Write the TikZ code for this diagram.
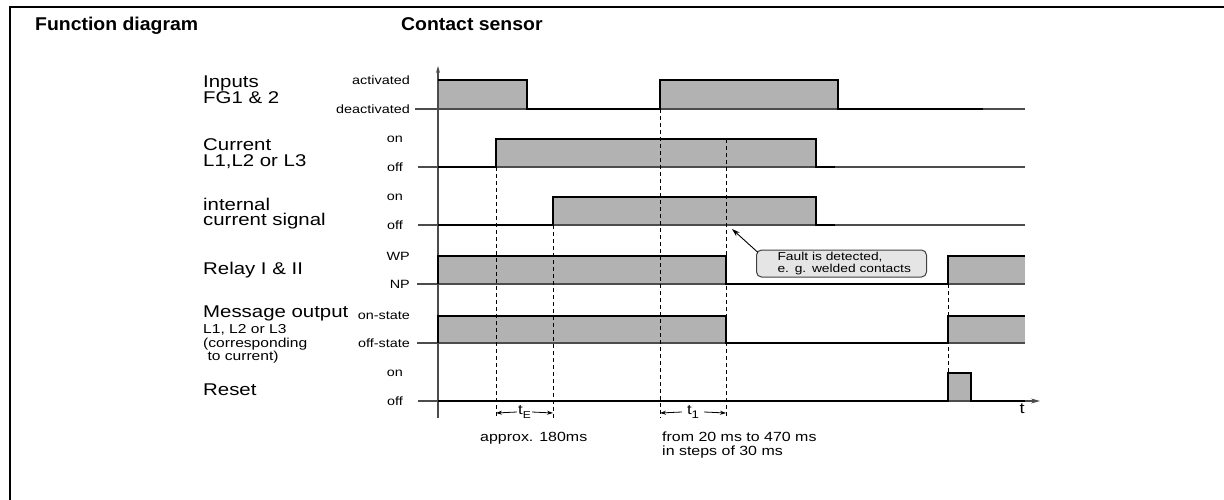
\documentclass[tikz,border=0pt]{standalone}
\usepackage{fontspec}
\setmainfont{Liberation Sans}[FakeStretch=1.2]
\newfontfamily\ttlfont{Liberation Sans}[FakeStretch=1.05]
\usetikzlibrary{arrows.meta}
\begin{document}
\begin{tikzpicture}[x=1pt,y=-1pt,
  sig/.style={line width=2pt, line join=miter, black},
  base/.style={line width=1.2pt, black!70},
  pulse/.style={fill=black!30},
  dsh/.style={line width=0.9pt, dash pattern=on 4pt off 3pt},
  ttl/.style={font=\ttlfont\fontsize{18.5}{21}\selectfont\bfseries, anchor=base west, inner sep=0},
  big/.style={font=\fontsize{17}{19}\selectfont, anchor=base west, inner sep=0},
  sml/.style={font=\fontsize{13}{14}\selectfont, anchor=base west, inner sep=0},
  lvl/.style={font=\fontsize{12}{13}\selectfont, anchor=east, inner sep=0},
  note/.style={font=\fontsize{13.3}{14}\selectfont, anchor=base west, inner sep=0},
  dim/.style={line width=0.8pt, -{Stealth[length=6pt,width=4pt]}},
  tip/.style={line width=0.9pt, -{Stealth[length=8pt,width=5pt]}}]
\useasboundingbox (0,0) rectangle (1224,500);
% frame
\draw[line width=2.5pt] (10,500) -- (10,7) -- (1224,7);
% titles
\node[ttl] (t1) at (35,31) {Function diagram};
\node[ttl] (t2) at (401,31) {Contact sensor};
% left labels
\node[big] (l1a) at (203,88) {Inputs};
\node[big] (l1b) at (203,104) {FG1 \& 2};
\node[big] (l2a) at (203,151) {Current};
\node[big] (l2b) at (203,167) {L1,L2 or L3};
\node[big] (l3a) at (203,210) {internal};
\node[big] (l3b) at (203,225) {current signal};
\node[big] (l4) at (203,274) {Relay I \& II};
\node[big] (l5a) at (203,317) {Message output};
\node[sml] (l5b) at (203,333) {L1, L2 or L3};
\node[sml] (l5c) at (203,347) {(corresponding};
\node[sml] (l5d) at (203,360) {\ to current)};
\node[big] (l6) at (203,395) {Reset};
% level labels
\node[lvl] (v1h) at (410,80) {activated};
\node[lvl] (v1l) at (410,109) {deactivated};
\node[lvl] (v2h) at (403,139) {on};
\node[lvl] (v2l) at (403,167) {off};
\node[lvl] (v3h) at (403,197) {on};
\node[lvl] (v3l) at (403,225) {off};
\node[lvl] (v4h) at (410,256) {WP};
\node[lvl] (v4l) at (410,284) {NP};
\node[lvl] (v5h) at (410,316) {on-state};
\node[lvl] (v5l) at (410,343) {off-state};
\node[lvl] (v6h) at (403,373) {on};
\node[lvl] (v6l) at (403,401) {off};
% pulses
\fill[pulse] (438,80) rectangle (527,109);
\fill[pulse] (660,80) rectangle (838,109);
\fill[pulse] (496,139) rectangle (816,167);
\fill[pulse] (553,197) rectangle (816,225);
\fill[pulse] (438,256) rectangle (726,284);
\fill[pulse] (948,256) rectangle (1025,284);
\fill[pulse] (438,316) rectangle (726,343);
\fill[pulse] (948,316) rectangle (1025,343);
\fill[pulse] (948,373) rectangle (971,401);
% base lines
\draw[base] (415,109) -- (1025,109);
\draw[base] (418,167) -- (1025,167);
\draw[base] (418,225) -- (1025,225);
\draw[base] (417,284) -- (1025,284);
\draw[base] (417,343) -- (1025,343);
\draw[base, -{Stealth[length=9pt,width=5pt]}] (418,401) -- (1040,401);
\draw[base, -{Stealth[length=7pt,width=4pt]}] (438,418) -- (438,66);
% dashed
\draw[dsh] (496,167) -- (496,418);
\draw[dsh] (553,225) -- (553,418);
\draw[dsh] (660,109) -- (660,418);
\draw[dsh] (726,139) -- (726,418);
\draw[dsh] (948,284) -- (948,373);
% signals
\draw[sig] (438,80) -- (527,80) -- (527,109) -- (660,109) -- (660,80) -- (838,80) -- (838,109) -- (983,109);
\draw[sig] (438,167) -- (496,167) -- (496,139) -- (816,139) -- (816,167) -- (835,167);
\draw[sig] (438,225) -- (553,225) -- (553,197) -- (816,197) -- (816,225) -- (835,225);
\draw[sig] (438,284) -- (438,256) -- (726,256) -- (726,284) -- (948,284) -- (948,256) -- (1025,256);
\draw[sig] (438,343) -- (438,316) -- (726,316) -- (726,343) -- (948,343) -- (948,316) -- (1025,316);
\draw[sig] (438,401) -- (948,401) -- (948,373) -- (971,373) -- (971,401) -- (1025,401);
\node[font=\fontsize{15}{17}\selectfont, anchor=north, inner sep=0] (tax) at (1022,404) {t};
% dimension marks
\coordinate (e1) at (496,413);
\coordinate (e2) at (553,413);
\coordinate (f1) at (660,413);
\coordinate (f2) at (726,413);
\node[font=\fontsize{14}{16}\selectfont, inner sep=1pt] (tE) at (524.5,412) {t\raisebox{-4pt}{\fontsize{10}{10}\selectfont E}};
\node[font=\fontsize{14}{16}\selectfont, inner sep=1pt] (t1d) at (693,412) {t\raisebox{-4pt}{\fontsize{11}{11}\selectfont 1}};
\draw[dim] (tE.west) -- (e1);
\draw[dim] (tE.east) -- (e2);
\draw[dim] ([xshift=-4pt]t1d.west) -- (f1);
\draw[dim] ([xshift=4pt]t1d.east) -- (f2);
\node[note] (n1) at (480,441) {approx. 180ms};
\node[note] (n2) at (662,441) {from 20 ms to 470 ms};
\node[note] (n3) at (662,455) {in steps of 30 ms};
% callout
\node[draw=black!75, line width=1pt, rounded corners=5pt, fill=black!10,
  font=\fontsize{11.5}{12}\selectfont, align=left, text width=170pt,
  inner xsep=0pt, inner ysep=1pt, minimum height=27pt, anchor=west] (fault) at (756,263.5)
  {\hspace*{21pt}Fault is detected,\\\hspace*{21pt}e. g. welded contacts};
\coordinate (faultpt) at (732,229);
\draw[tip] ([shift={(2,3)}]fault.north west) -- (faultpt);
\end{tikzpicture}
\end{document}
